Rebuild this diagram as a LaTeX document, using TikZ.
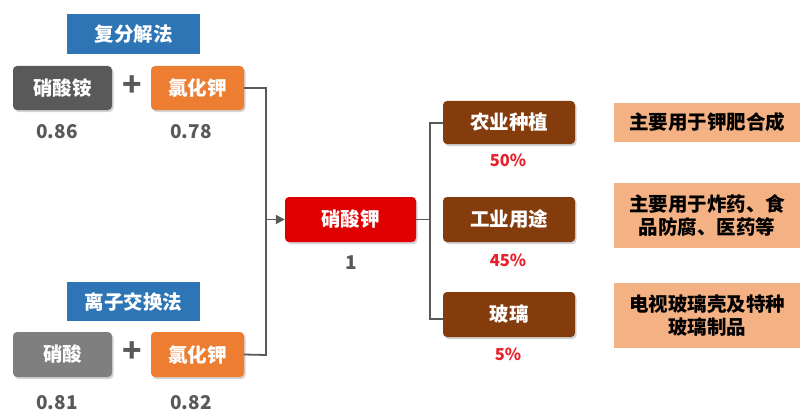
\documentclass[tikz,border=0pt]{standalone}
\usepackage{fontspec}
\setmainfont{Noto Sans CJK SC}
\usetikzlibrary{shadows,arrows.meta}
\definecolor{blueb}{HTML}{2E75B6}
\definecolor{darkg}{HTML}{595959}
\definecolor{midg}{HTML}{7F7F7F}
\definecolor{orng}{HTML}{ED7D31}
\definecolor{redb}{HTML}{E00000}
\definecolor{brown}{HTML}{843C0C}
\definecolor{salmon}{HTML}{F4B183}
\definecolor{numg}{HTML}{595959}
\definecolor{pctred}{HTML}{E8202A}
\begin{document}
\begin{tikzpicture}[x=1pt,y=-1pt,
  box/.style={rounded corners=4pt, text=white, font=\fontsize{19.5}{22}\selectfont\bfseries,
    drop shadow={shadow xshift=1.5pt,shadow yshift=-2pt,opacity=0.35}, inner sep=0pt},
  method/.style={fill=blueb, text=white, font=\fontsize{19.5}{22}\selectfont\bfseries, inner sep=0pt},
  num/.style={text=numg, font=\fontsize{19}{22}\selectfont\bfseries},
  pct/.style={text=pctred, font=\fontsize{16.5}{19}\selectfont\bfseries},
  plus/.style={text=numg, font=\fontsize{32}{32}\selectfont\bfseries},
  note/.style={fill=salmon, text=black, font=\fontsize{19.5}{23.5}\selectfont\bfseries, align=center, inner sep=0pt},
  conn/.style={draw=darkg, line width=1.8pt}]
\useasboundingbox (0,0) rectangle (801,412);
% top method
\node[method, minimum width=133pt, minimum height=40pt] (m1) at (133.5,34) {复分解法};
\node[box, fill=darkg, minimum width=99pt, minimum height=44pt] (a1) at (62.5,88) {硝酸铵};
\node[plus] (p1) at (132,86) {+};
\node[box, fill=orng, minimum width=93pt, minimum height=44pt] (b1) at (197.5,88) {氯化钾};
\node[num] (n1) at (57,132) {0.86};
\node[num] (n2) at (191,132) {0.78};
% bottom method
\node[method, minimum width=133pt, minimum height=39pt] (m2) at (133.5,301.5) {离子交换法};
\node[box, fill=midg, minimum width=99pt, minimum height=45pt] (a2) at (62.5,354.5) {硝酸};
\node[plus] (p2) at (132,352) {+};
\node[box, fill=orng, minimum width=93pt, minimum height=45pt] (b2) at (197.5,354.5) {氯化钾};
\node[num] (n3) at (57,403) {0.81};
\node[num] (n4) at (191,403) {0.82};
% center
\node[box, fill=redb, minimum width=131pt, minimum height=45pt] (c) at (350.5,219.5) {硝酸钾};
\node[num] (n5) at (351,263) {1};
\coordinate (j1) at (266,88);
\coordinate (j2) at (266,355);
\coordinate (jm) at (266,219.5);
\draw[conn] (b1.east) -- (j1) -- (j2) -- (b2.east);
\draw[conn, -{Triangle[length=9pt,width=9pt]}] (jm) -- (c.west);
% right boxes
\node[box, fill=brown, minimum width=132pt, minimum height=43pt] (u1) at (509,122.5) {农业种植};
\node[box, fill=brown, minimum width=132pt, minimum height=45pt] (u2) at (509,219.5) {工业用途};
\node[box, fill=brown, minimum width=132pt, minimum height=45pt] (u3) at (509,314.5) {玻璃};
\node[pct] (q1) at (508,160) {50\%};
\node[pct] (q2) at (508,260) {45\%};
\node[pct] (q3) at (508,354) {5\%};
% bracket
\coordinate (k0) at (430,219.5);
\coordinate (k1) at (430,123);
\coordinate (k2) at (430,319);
\draw[draw=darkg, line width=1.4pt] (c.east) -- (k0);
\draw[draw=darkg, line width=1.4pt] (u1.west |- k1) -- (k1) -- (k2) -- (u3.west |- k2);
% notes
\node[note, minimum width=186pt, minimum height=39pt] (s1) at (707,122.5) {主要用于钾肥合成};
\node[note, minimum width=186pt, minimum height=65pt] (s2) at (707,215.5) {主要用于炸药、食\\品防腐、医药等};
\node[note, minimum width=186pt, minimum height=65pt] (s3) at (707,315.5) {电视玻璃壳及特种\\玻璃制品};
\end{tikzpicture}
\end{document}
